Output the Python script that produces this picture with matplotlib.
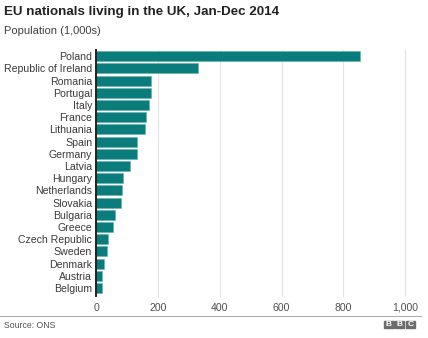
import matplotlib
matplotlib.use('Agg')
import matplotlib.pyplot as plt
from matplotlib.patches import Rectangle

plt.rcParams['font.family'] = ['Liberation Sans', 'DejaVu Sans']

countries = ['Poland', 'Republic of Ireland', 'Romania', 'Portugal', 'Italy',
             'France', 'Lithuania', 'Spain', 'Germany', 'Latvia', 'Hungary',
             'Netherlands', 'Slovakia', 'Bulgaria', 'Greece', 'Czech Republic',
             'Sweden', 'Denmark', 'Austria', 'Belgium']
population = [853, 331, 177, 178, 171, 162, 157, 133, 133, 108, 87, 84,
              80, 61, 55, 39, 34, 26, 20, 17]
xticks = [0, 200, 400, 600, 800, 1000]
xtick_labels = ['0', '200', '400', '600', '800', '1,000']

W, H = 428, 338
fig = plt.figure(figsize=(W / 100, H / 100), dpi=100)

# axes placed in pixel terms
left, right, top, bottom = 96.3, 405, 50, 296
ax = fig.add_axes([left / W, 1 - bottom / H, (right - left) / W, (bottom - top) / H])

ypos = list(range(len(countries)))
ax.barh(ypos, population, height=0.82, color='#0b7c7c',
        edgecolor='#5fb3b3', linewidth=0.4, zorder=3)
ax.set_xlim(0, 1000)
ax.set_ylim(19.65, -0.5)

ax.set_yticks(ypos)
ax.set_yticklabels(countries, fontsize=7.6, color='#3a3a3a')
ax.set_xticks(xticks)
ax.set_xticklabels(xtick_labels, fontsize=7.6, color='#505050')
ax.tick_params(axis='both', length=0)
ax.tick_params(axis='y', pad=3)
ax.tick_params(axis='x', pad=5)

for s in ['top', 'right', 'bottom']:
    ax.spines[s].set_visible(False)
ax.spines['left'].set_color('#222222')
ax.spines['left'].set_linewidth(1.4)
ax.spines['left'].set_zorder(4)

ax.grid(axis='x', color='#e4e4e4', linewidth=0.8, zorder=0)
for gl in ax.get_xgridlines():
    gl.set_clip_on(False)
ax.set_axisbelow(True)

fig.text(4 / W, 1 - 12 / H, 'EU nationals living in the UK, Jan-Dec 2014',
         fontsize=9.6, fontweight='bold', color='#222222', va='center', ha='left')
fig.text(4 / W, 1 - 31 / H, 'Population (1,000s)',
         fontsize=8, color='#404040', va='center', ha='left')

# footer line
fig.add_artist(plt.Line2D([0, 421 / W], [1 - 316 / H, 1 - 316 / H],
                          color='#b0b0b0', linewidth=0.8))
fig.text(4 / W, 1 - 325 / H, 'Source: ONS', fontsize=6.3, color='#555555',
         va='center', ha='left')

# BBC blocks
bw, gap = 9.6, 1.2
x0 = 384
for i, ch in enumerate('BBC'):
    bx = x0 + i * (bw + gap)
    fig.add_artist(Rectangle((bx / W, 1 - 328 / H), bw / W, 7.5 / H,
                             transform=fig.transFigure, color='#6d6d6d'))
    fig.text((bx + bw / 2) / W, 1 - 324.3 / H, ch, fontsize=6, fontweight='bold',
             color='white', ha='center', va='center')

fig.savefig('out.png', dpi=100)
